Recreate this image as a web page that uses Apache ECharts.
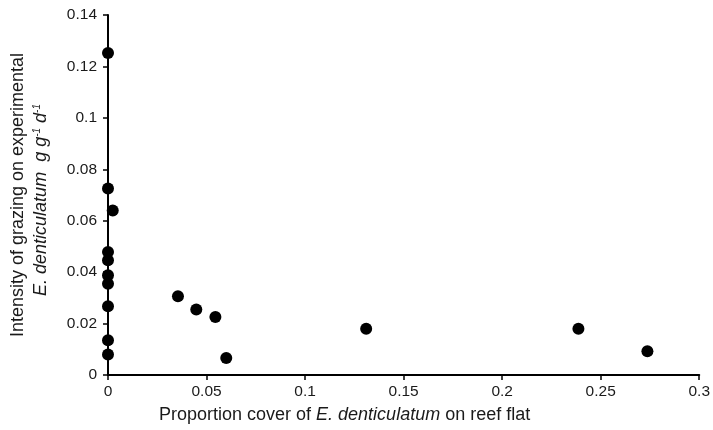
<!DOCTYPE html>
<html>
<head>
<meta charset="utf-8">
<script src="https://cdn.jsdelivr.net/npm/echarts@6/dist/echarts.min.js"></script>
<style>
  html, body { margin: 0; padding: 0; background: #fff; }
  #chart { width: 713px; height: 430px; }
</style>
</head>
<body>
<div id="chart"></div>
<script>
// proportion cover on reef flat (x) vs grazing intensity (y)
const coverValues = [0, 0, 0.0024, 0, 0, 0, 0, 0, 0, 0,
                     0.0355, 0.0448, 0.0545, 0.060, 0.131, 0.2387, 0.2737];
const grazingValues = [0.1252, 0.0725, 0.064, 0.0478, 0.0446, 0.0388, 0.0355, 0.0267, 0.0135, 0.008,
                       0.0306, 0.0255, 0.0226, 0.0066, 0.018, 0.018, 0.0092];
const xTicks = [0, 0.05, 0.1, 0.15, 0.2, 0.25, 0.3];
const yTicks = [0, 0.02, 0.04, 0.06, 0.08, 0.1, 0.12, 0.14];

const chart = echarts.init(document.getElementById('chart'));
const font = 'Liberation Sans, Arial, sans-serif';
const textColor = '#1a1a1a';

const option = {
    animation: false,
    grid: { left: 108, right: 11, top: 15, bottom: 55 },
    xAxis: {
        type: 'value',
        min: xTicks[0],
        max: xTicks[xTicks.length - 1],
        interval: 0.05,
        splitLine: { show: false },
        axisLine: { onZero: false, lineStyle: { color: '#000', width: 2 } },
        axisTick: { show: true, length: 5, lineStyle: { color: '#000', width: 1.5 } },
        axisLabel: { color: textColor, fontFamily: font, fontSize: 15.5, margin: 9 }
    },
    yAxis: {
        type: 'value',
        min: yTicks[0],
        max: yTicks[yTicks.length - 1],
        interval: 0.02,
        splitLine: { show: false },
        axisLine: { show: true, onZero: false, lineStyle: { color: '#000', width: 2 } },
        axisTick: { show: true, length: 5, lineStyle: { color: '#000', width: 1.5 } },
        axisLabel: { color: textColor, fontFamily: font, fontSize: 15.5, margin: 11 }
    },
    graphic: [
        {
            type: 'text',
            x: 159, y: 415,
            style: {
                text: 'Proportion cover of {i|E. denticulatum} on reef flat',
                fill: textColor,
                font: '18px ' + font,
                verticalAlign: 'middle',
                rich: { i: { fontStyle: 'italic', fontSize: 18, fontFamily: font, fill: textColor } }
            }
        },
        {
            type: 'text',
            x: 18, y: 195,
            rotation: Math.PI / 2,
            style: {
                text: 'Intensity of grazing on experimental',
                fill: textColor,
                font: '18px ' + font,
                align: 'center',
                verticalAlign: 'middle'
            }
        },
        {
            type: 'text',
            x: 41, y: 200,
            rotation: Math.PI / 2,
            style: {
                text: '{i|E. denticulatum  g g}{s|-1}{i| d}{s|-1}',
                fill: textColor,
                align: 'center',
                verticalAlign: 'middle',
                rich: {
                    i: { fontStyle: 'italic', fontSize: 18, fontFamily: font, fill: textColor, verticalAlign: 'bottom' },
                    s: { fontStyle: 'italic', fontSize: 10, fontFamily: font, fill: textColor, verticalAlign: 'top' }
                }
            }
        }
    ],
    series: [{
        type: 'scatter',
        symbol: 'circle',
        symbolSize: 12,
        itemStyle: { color: '#000', opacity: 1 },
        data: coverValues.map((x, i) => [x, grazingValues[i]])
    }]
};

chart.setOption(option);
</script>
</body>
</html>
